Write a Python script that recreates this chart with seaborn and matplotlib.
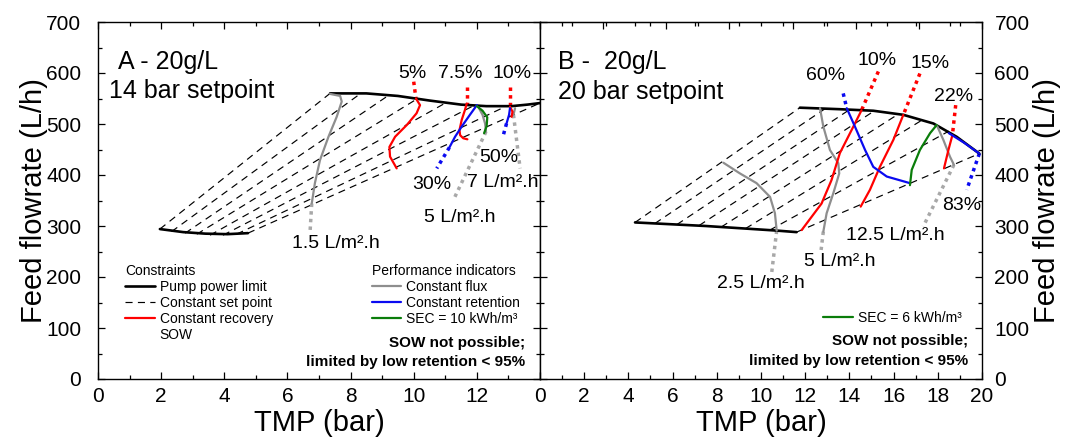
import matplotlib
matplotlib.use('Agg')
import matplotlib.pyplot as plt
from matplotlib.lines import Line2D
from matplotlib.ticker import MultipleLocator
import seaborn as sns


# ---------------- panel A : 20 g/L, 14 bar setpoint ----------------
A_PUMP_TOP_X = [7.35, 8.5, 9.5, 10.5, 11.5, 12.3, 13.1, 13.6, 14.0]
A_PUMP_TOP_Y = [560, 560, 555, 546, 538, 535, 535, 538, 541]
A_PUMP_BOT_X = [1.96, 2.7, 3.4, 4.1, 4.75]
A_PUMP_BOT_Y = [294, 288, 285, 284, 286]

# constant set point lines (start on lower limit, end on upper limit)
A_SET_X0 = [1.96, 2.33, 2.76, 3.13, 3.55, 3.96, 4.39, 4.75]
A_SET_Y0 = [294, 289, 286, 284, 282, 282, 284, 286]
A_SET_X1 = [7.35, 8.3, 9.2, 10.1, 11.0, 11.9, 12.9, 14.0]
A_SET_Y1 = [560, 559, 556, 549, 541, 536, 534, 541]

A_FLUX15_X = [7.35, 7.67, 7.72, 7.56, 7.30, 7.03, 6.87, 6.77]
A_FLUX15_Y = [559, 555, 544, 514, 475, 429, 384, 344]
A_FLUX15_DOT_X = [6.77, 6.72]
A_FLUX15_DOT_Y = [344, 292]

A_FLUX5_X = [12.05, 12.18, 12.26, 12.29]
A_FLUX5_Y = [533, 518, 501, 485]
A_FLUX5_DOT_X = [12.29, 11.28]
A_FLUX5_DOT_Y = [485, 354]

A_FLUX7_X = [13.21, 13.16]
A_FLUX7_Y = [531, 518]
A_FLUX7_DOT_X = [13.16, 13.37]
A_FLUX7_DOT_Y = [518, 413]

A_REC5_X = [10.07, 10.20, 10.09, 9.78, 9.41, 9.23, 9.25, 9.46]
A_REC5_Y = [550, 537, 521, 498, 475, 455, 436, 413]
A_REC5_DOT_X = [10.0, 10.07]
A_REC5_DOT_Y = [583, 550]

A_REC75_X = [11.68, 11.62, 11.52, 11.45, 11.47, 11.57, 11.70]
A_REC75_Y = [540, 527, 508, 488, 478, 472, 470]
A_REC75_DOT_X = [11.68, 11.68]
A_REC75_DOT_Y = [572, 540]

A_REC10_X = [13.05, 13.13, 13.10]
A_REC10_Y = [534, 524, 514]
A_REC10_DOT_X = [13.05, 13.05]
A_REC10_DOT_Y = [572, 534]

A_RET30_X = [12.0, 11.78, 11.52, 11.31, 11.13]
A_RET30_Y = [537, 518, 495, 475, 454]
A_RET30_DOT_X = [11.13, 10.73]
A_RET30_DOT_Y = [454, 413]

A_RET50_X = [13.05, 13.02, 12.94]
A_RET50_Y = [531, 518, 501]
A_RET50_DOT_X = [12.94, 12.82]
A_RET50_DOT_Y = [501, 474]

A_SEC_X = [12.0, 12.18, 12.33, 12.31, 12.23]
A_SEC_Y = [535, 526, 513, 496, 482]

# ---------------- panel B : 20 g/L, 20 bar setpoint ----------------
B_PUMP_TOP_X = [11.76, 13.57, 15.08, 16.44, 17.80, 18.85, 19.88]
B_PUMP_TOP_Y = [532, 529, 526, 518, 501, 475, 442]
B_PUMP_BOT_X = [4.30, 7.5, 10.71, 11.61]
B_PUMP_BOT_Y = [307, 300, 291, 288]

B_SET_X0 = [4.30, 5.2, 6.2, 7.2, 8.2, 9.3, 10.4, 11.61]
B_SET_Y0 = [307, 305, 303, 301, 298, 295, 292, 288]
B_SET_X1 = [11.76, 12.9, 14.0, 15.1, 16.2, 17.3, 18.5, 19.88]
B_SET_Y1 = [532, 530, 528, 525, 519, 508, 486, 442]

B_FLUX25_X = [8.30, 9.05, 9.80, 10.41, 10.63, 10.71]
B_FLUX25_Y = [424, 403, 384, 357, 325, 291]
B_FLUX25_DOT_X = [10.71, 10.48]
B_FLUX25_DOT_Y = [291, 207]

B_FLUX5_X = [12.67, 12.82, 13.12, 13.50, 13.54, 13.27, 12.97, 12.82]
B_FLUX5_Y = [531, 495, 449, 423, 403, 364, 325, 289]
B_FLUX5_DOT_X = [12.82, 12.72]
B_FLUX5_DOT_Y = [289, 253]

B_FLUX125_X = [17.95, 18.25, 18.55, 18.73]
B_FLUX125_Y = [498, 469, 436, 420]
B_FLUX125_DOT_X = [18.73, 17.34]
B_FLUX125_DOT_Y = [420, 299]

B_REC10_X = [14.55, 14.18, 13.57, 13.19, 12.74, 11.84]
B_REC10_Y = [527, 495, 443, 390, 344, 292]
B_REC10_DOT_X = [15.31, 14.55]
B_REC10_DOT_Y = [603, 527]

B_REC15_X = [16.44, 15.99, 15.38, 14.93, 14.51]
B_REC15_Y = [518, 469, 416, 371, 338]
B_REC15_DOT_X = [17.19, 16.44]
B_REC15_DOT_Y = [599, 518]

B_REC22_X = [18.66, 18.48, 18.28]
B_REC22_Y = [478, 449, 413]
B_REC22_DOT_X = [18.81, 18.66]
B_REC22_DOT_Y = [537, 478]

B_RET60_X = [13.88, 14.25, 14.71, 15.08, 15.69, 16.74]
B_RET60_Y = [531, 495, 449, 416, 397, 384]
B_RET60_DOT_X = [13.72, 13.88]
B_RET60_DOT_Y = [560, 531]

B_RET83_X = [18.5, 19.2, 19.88]
B_RET83_Y = [482, 463, 442]
B_RET83_DOT_X = [19.88, 19.31]
B_RET83_DOT_Y = [442, 371]

B_SEC_X = [16.74, 16.82, 17.19, 17.65, 17.95]
B_SEC_Y = [380, 410, 449, 482, 498]

X_TICKS_A = [0, 2, 4, 6, 8, 10, 12, 14]
X_TICKLABELS_A = ['0', '2', '4', '6', '8', '10', '12', '']

RED = '#ff0000'
BLUE = '#0a0af0'
GREEN = '#0a7d0a'
GREY = '#8e8e8e'
GREY_DOT = '#a8a8a8'


def curve(ax, xs, ys, color, lw=1.6, ls='-', z=3):
    sns.lineplot(x=xs, y=ys, sort=False, estimator=None, color=color,
                 linewidth=lw, linestyle=ls, ax=ax, zorder=z)


def dotted(ax, xs, ys, color):
    curve(ax, xs, ys, color, lw=2.5, ls=(0, (1, 1.2)), z=2)


def setpoint_lines(ax, x0, y0, x1, y1):
    for a, b, c, d in zip(x0, y0, x1, y1):
        curve(ax, [a, c], [b, d], 'black', lw=0.85, ls=(0, (6, 4.5)), z=1)


def style_axes(ax, xmax):
    ax.set_xlim(0, xmax)
    ax.set_ylim(0, 700)
    ax.xaxis.set_minor_locator(MultipleLocator(1))
    ax.yaxis.set_major_locator(MultipleLocator(100))
    ax.yaxis.set_minor_locator(MultipleLocator(50))
    ax.tick_params(which='both', direction='in', top=True, right=True,
                   left=True, bottom=True, labelsize=15, width=0.9,
                   color='black', labelcolor='black')
    ax.tick_params(which='major', length=5)
    ax.tick_params(which='minor', length=3)
    ax.tick_params(axis='x', pad=6)
    for s in ax.spines.values():
        s.set_visible(True)
        s.set_linewidth(1.0)
        s.set_color('black')
    ax.set_xlabel('TMP (bar)', fontsize=21)
    ax.xaxis.set_label_coords(0.5, -0.085)


def lbl(ax, x, y, s, size=14, **kw):
    ax.text(x, y, s, fontsize=size, ha='center', va='center', **kw)


sns.set_style('ticks')
plt.rcParams['font.family'] = ['Liberation Sans', 'DejaVu Sans']
plt.rcParams['text.color'] = 'black'
plt.rcParams['axes.labelcolor'] = 'black'

fig = plt.figure(figsize=(10.7, 4.46), dpi=100)
ax1 = fig.add_axes([98 / 1070, 67 / 446, 442 / 1070, 357 / 446])
ax2 = fig.add_axes([540 / 1070, 67 / 446, 442 / 1070, 357 / 446])

# ---- panel A ----
setpoint_lines(ax1, A_SET_X0, A_SET_Y0, A_SET_X1, A_SET_Y1)
curve(ax1, A_PUMP_TOP_X, A_PUMP_TOP_Y, 'black', lw=1.9)
curve(ax1, A_PUMP_BOT_X, A_PUMP_BOT_Y, 'black', lw=1.9)
curve(ax1, A_FLUX15_X, A_FLUX15_Y, GREY)
dotted(ax1, A_FLUX15_DOT_X, A_FLUX15_DOT_Y, GREY_DOT)
curve(ax1, A_FLUX5_X, A_FLUX5_Y, GREY)
dotted(ax1, A_FLUX5_DOT_X, A_FLUX5_DOT_Y, GREY_DOT)
curve(ax1, A_FLUX7_X, A_FLUX7_Y, GREY)
dotted(ax1, A_FLUX7_DOT_X, A_FLUX7_DOT_Y, GREY_DOT)
curve(ax1, A_REC5_X, A_REC5_Y, RED)
dotted(ax1, A_REC5_DOT_X, A_REC5_DOT_Y, RED)
curve(ax1, A_REC75_X, A_REC75_Y, RED)
dotted(ax1, A_REC75_DOT_X, A_REC75_DOT_Y, RED)
curve(ax1, A_REC10_X, A_REC10_Y, RED)
dotted(ax1, A_REC10_DOT_X, A_REC10_DOT_Y, RED)
curve(ax1, A_RET30_X, A_RET30_Y, BLUE)
dotted(ax1, A_RET30_DOT_X, A_RET30_DOT_Y, BLUE)
curve(ax1, A_RET50_X, A_RET50_Y, BLUE)
dotted(ax1, A_RET50_DOT_X, A_RET50_DOT_Y, BLUE)
curve(ax1, A_SEC_X, A_SEC_Y, GREEN)

style_axes(ax1, 14)
ax1.set_xticks(X_TICKS_A)
ax1.set_xticklabels(X_TICKLABELS_A)
ax1.tick_params(axis='y', pad=12)
ax1.set_ylabel('Feed flowrate (L/h)', fontsize=21)
ax1.yaxis.set_label_coords(-0.112, 0.5)

ax1.text(0.046, 0.887, 'A - 20g/L', fontsize=18, transform=ax1.transAxes, va='center')
ax1.text(0.025, 0.807, '14 bar setpoint', fontsize=18, transform=ax1.transAxes, va='center')
lbl(ax1, 9.96, 600, '5%')
lbl(ax1, 11.47, 600, '7.5%')
lbl(ax1, 13.13, 600, '10%')
lbl(ax1, 10.57, 382, '30%')
lbl(ax1, 12.68, 435, '50%')
lbl(ax1, 12.83, 386, '7 L/m².h')
lbl(ax1, 11.47, 317, '5 L/m².h')
lbl(ax1, 7.54, 266, '1.5 L/m².h')

leg_kw = dict(fontsize=10, frameon=False, handlelength=2.15, handletextpad=0.35,
              labelspacing=0.15, borderpad=0, borderaxespad=0, loc='upper left',
              title_fontsize=10, alignment='left')
h_con = [Line2D([], [], color='black', lw=1.9),
         Line2D([], [], color='black', lw=0.85, ls=(0, (6, 4.5))),
         Line2D([], [], color=RED, lw=1.6),
         Line2D([], [], color='none')]
leg1 = ax1.legend(h_con, ['Pump power limit', 'Constant set point', 'Constant recovery', 'SOW'],
                  title='Constraints', bbox_to_anchor=(0.061, 0.323), **leg_kw)
ax1.add_artist(leg1)
h_perf = [Line2D([], [], color=GREY, lw=1.6),
          Line2D([], [], color=BLUE, lw=1.6),
          Line2D([], [], color=GREEN, lw=1.6)]
ax1.legend(h_perf, ['Constant flux', 'Constant retention', 'SEC = 10 kWh/m³'],
           title='Performance indicators', bbox_to_anchor=(0.619, 0.323), **leg_kw)
ax1.text(0.966, 0.102, 'SOW not possible;', fontsize=11, fontweight='bold',
         ha='right', va='center', transform=ax1.transAxes)
ax1.text(0.966, 0.048, 'limited by low retention < 95%', fontsize=11, fontweight='bold',
         ha='right', va='center', transform=ax1.transAxes)

# ---- panel B ----
setpoint_lines(ax2, B_SET_X0, B_SET_Y0, B_SET_X1, B_SET_Y1)
curve(ax2, B_PUMP_TOP_X, B_PUMP_TOP_Y, 'black', lw=1.9)
curve(ax2, B_PUMP_BOT_X, B_PUMP_BOT_Y, 'black', lw=1.9)
curve(ax2, B_FLUX25_X, B_FLUX25_Y, GREY)
dotted(ax2, B_FLUX25_DOT_X, B_FLUX25_DOT_Y, GREY_DOT)
curve(ax2, B_FLUX5_X, B_FLUX5_Y, GREY)
dotted(ax2, B_FLUX5_DOT_X, B_FLUX5_DOT_Y, GREY_DOT)
curve(ax2, B_FLUX125_X, B_FLUX125_Y, GREY)
dotted(ax2, B_FLUX125_DOT_X, B_FLUX125_DOT_Y, GREY_DOT)
curve(ax2, B_REC10_X, B_REC10_Y, RED)
dotted(ax2, B_REC10_DOT_X, B_REC10_DOT_Y, RED)
curve(ax2, B_REC15_X, B_REC15_Y, RED)
dotted(ax2, B_REC15_DOT_X, B_REC15_DOT_Y, RED)
curve(ax2, B_REC22_X, B_REC22_Y, RED)
dotted(ax2, B_REC22_DOT_X, B_REC22_DOT_Y, RED)
curve(ax2, B_RET60_X, B_RET60_Y, BLUE)
dotted(ax2, B_RET60_DOT_X, B_RET60_DOT_Y, BLUE)
curve(ax2, B_RET83_X, B_RET83_Y, BLUE, z=4)
dotted(ax2, B_RET83_DOT_X, B_RET83_DOT_Y, BLUE)
curve(ax2, B_SEC_X, B_SEC_Y, GREEN)

style_axes(ax2, 20)
ax2.xaxis.set_major_locator(MultipleLocator(2))
ax2.tick_params(axis='x', top=False)
ax2.tick_params(axis='y', labelleft=False, labelright=True, pad=9)
ax2.yaxis.set_label_position('right')
ax2.set_ylabel('Feed flowrate (L/h)', fontsize=21)
ax2.yaxis.set_label_coords(1.115, 0.5)
# top axis of panel B keeps the tick spacing of panel A
top = ax2.secondary_xaxis('top', functions=(lambda v: v * 0.7, lambda v: v / 0.7))
top.xaxis.set_major_locator(MultipleLocator(2))
top.xaxis.set_minor_locator(MultipleLocator(1))
top.tick_params(which='both', direction='in', labeltop=False, width=0.9, color='black')
top.tick_params(which='major', length=5)
top.tick_params(which='minor', length=3)
top.spines['top'].set_color('black')

ax2.text(0.041, 0.887, 'B -  20g/L', fontsize=18, transform=ax2.transAxes, va='center')
ax2.text(0.041, 0.803, '20 bar setpoint', fontsize=18, transform=ax2.transAxes, va='center')
lbl(ax2, 12.90, 596, '60%')
lbl(ax2, 15.24, 625, '10%')
lbl(ax2, 17.65, 619, '15%')
lbl(ax2, 18.70, 553, '22%')
lbl(ax2, 19.08, 341, '83%')
lbl(ax2, 16.10, 282, '12.5 L/m².h')
lbl(ax2, 13.57, 230, '5 L/m².h')
lbl(ax2, 10.00, 188, '2.5 L/m².h')

ax2.legend([Line2D([], [], color=GREEN, lw=1.6)], ['SEC = 6 kWh/m³'],
           bbox_to_anchor=(0.640, 0.190), **{k: v for k, v in leg_kw.items()
                                              if k not in ('title_fontsize', 'alignment')})
ax2.text(0.968, 0.107, 'SOW not possible;', fontsize=11, fontweight='bold',
         ha='right', va='center', transform=ax2.transAxes)
ax2.text(0.968, 0.050, 'limited by low retention < 95%', fontsize=11, fontweight='bold',
         ha='right', va='center', transform=ax2.transAxes)

fig.savefig('out.png', dpi=100)
